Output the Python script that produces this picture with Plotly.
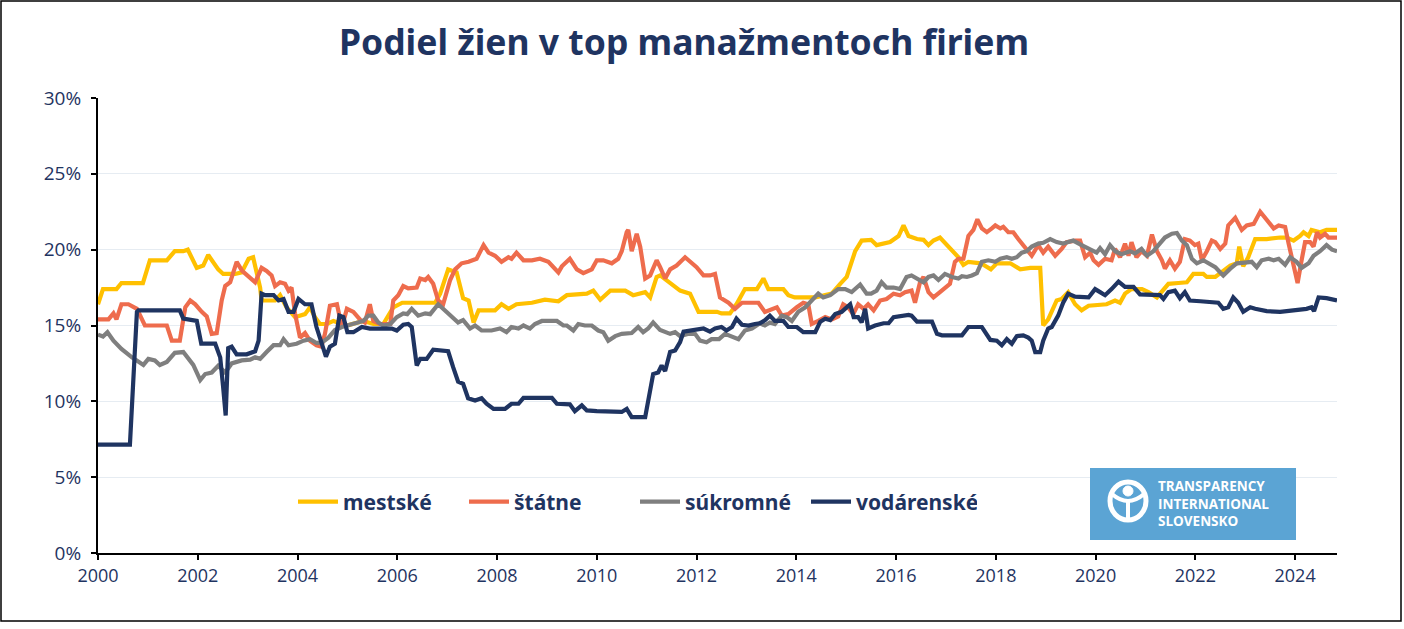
import plotly.graph_objects as go

W, H = 1404, 629
ML, MR, MT, MB = 98, 67, 98, 76
NAVY = "#1F3461"

title_text = "Podiel žien v top manažmentoch firiem"
series_names = ["mestské", "štátne", "súkromné", "vodárenské"]
series_colors = ["#FFC000", "#EE6C4D", "#7F7F7F", "#1F3461"]
y_ticks = [0, 5, 10, 15, 20, 25, 30]
x_ticks = list(range(2000, 2025, 2))
logo_lines = ["TRANSPARENCY", "INTERNATIONAL", "SLOVENSKO"]

# (year, share in %)
mestske = [(2000.0,16.4),(2000.1,17.4),(2000.37,17.4),(2000.47,17.8),(2000.9,17.8),(2001.04,19.3),(2001.38,19.3),(2001.54,19.9),(2001.71,19.9),(2001.8,20.0),(2001.98,18.8),(2002.11,18.95),(2002.21,19.65),(2002.41,18.7),(2002.51,18.4),(2002.75,18.4),(2002.88,18.5),(2003.02,19.4),(2003.11,19.5),(2003.25,17.5),(2003.28,16.65),(2003.55,16.65),(2003.65,17.0),(2003.78,16.2),(2003.95,15.55),(2004.15,15.75),(2004.25,16.2),(2004.35,15.55),(2004.45,15.1),(2004.59,15.1),(2004.72,15.3),(2004.99,15.0),(2005.32,15.3),(2005.52,15.1),(2005.72,15.1),(2005.92,16.2),(2006.1,16.5),(2006.35,16.5),(2006.76,16.5),(2006.86,17.1),(2007.02,18.7),(2007.19,18.5),(2007.32,16.8),(2007.43,16.65),(2007.53,15.2),(2007.63,16.0),(2007.96,16.0),(2008.09,16.4),(2008.23,16.1),(2008.39,16.4),(2008.7,16.5),(2008.96,16.7),(2009.23,16.6),(2009.4,17.0),(2009.8,17.1),(2009.93,17.3),(2010.07,16.7),(2010.27,17.3),(2010.57,17.3),(2010.73,17.0),(2010.97,17.2),(2011.07,16.85),(2011.2,18.2),(2011.27,18.3),(2011.47,17.8),(2011.67,17.3),(2011.87,17.1),(2012.04,15.9),(2012.41,15.9),(2012.5,15.8),(2012.67,15.8),(2012.8,16.4),(2012.97,17.4),(2013.21,17.4),(2013.34,18.1),(2013.44,17.4),(2013.74,17.4),(2013.84,17.0),(2013.97,16.85),(2014.38,16.85),(2014.58,17.0),(2014.71,17.1),(2014.88,17.75),(2015.01,18.2),(2015.18,19.9),(2015.31,20.6),(2015.5,20.65),(2015.61,20.3),(2015.88,20.5),(2016.05,20.9),(2016.15,21.6),(2016.25,20.9),(2016.42,20.7),(2016.55,20.65),(2016.65,20.3),(2016.75,20.6),(2016.88,20.8),(2017.02,20.3),(2017.15,19.9),(2017.25,19.5),(2017.35,19.0),(2017.45,19.2),(2017.7,19.1),(2017.9,18.7),(2018.02,19.1),(2018.29,19.1),(2018.49,18.7),(2018.69,18.8),(2018.89,18.8),(2018.95,15.0),(2019.05,15.4),(2019.15,16.1),(2019.22,16.65),(2019.32,16.75),(2019.45,17.2),(2019.59,16.4),(2019.72,16.0),(2019.86,16.3),(2020.22,16.4),(2020.39,16.65),(2020.49,16.5),(2020.59,17.1),(2020.72,17.4),(2020.93,17.4),(2021.06,17.2),(2021.23,16.85),(2021.33,17.2),(2021.46,17.75),(2021.66,17.8),(2021.83,17.85),(2021.96,18.4),(2022.16,18.4),(2022.23,18.2),(2022.4,18.2),(2022.56,18.6),(2022.7,18.95),(2022.83,19.1),(2022.88,20.2),(2022.96,18.9),(2023.06,19.5),(2023.2,20.7),(2023.43,20.7),(2023.7,20.8),(2023.83,20.8),(2023.97,20.6),(2024.1,20.9),(2024.17,21.15),(2024.27,20.9),(2024.33,21.3),(2024.5,21.15),(2024.63,21.3),(2024.84,21.3)]

statne = [(2000.0,15.4),(2000.21,15.4),(2000.31,15.8),(2000.37,15.4),(2000.47,16.4),(2000.61,16.4),(2000.78,16.1),(2000.91,15.3),(2000.94,15.0),(2001.38,15.0),(2001.48,14.0),(2001.64,14.0),(2001.75,16.2),(2001.85,16.65),(2001.95,16.4),(2002.08,15.9),(2002.18,15.6),(2002.28,14.45),(2002.38,14.5),(2002.48,16.65),(2002.55,17.6),(2002.65,17.85),(2002.78,19.2),(2002.89,18.6),(2003.0,18.3),(2003.15,17.85),(2003.28,18.8),(2003.38,18.6),(2003.48,18.3),(2003.55,17.6),(2003.65,17.85),(2003.75,17.75),(2003.82,17.3),(2003.88,17.5),(2003.95,15.8),(2004.05,14.2),(2004.15,14.5),(2004.25,14.0),(2004.38,13.7),(2004.48,13.6),(2004.55,14.45),(2004.65,16.3),(2004.79,16.4),(2004.89,14.9),(2004.99,16.1),(2005.12,15.9),(2005.25,15.4),(2005.35,15.2),(2005.45,16.4),(2005.52,15.3),(2005.65,15.1),(2005.86,15.1),(2005.92,16.65),(2006.02,17.0),(2006.12,17.6),(2006.22,17.45),(2006.39,17.5),(2006.46,18.1),(2006.56,18.0),(2006.62,18.2),(2006.72,17.75),(2006.82,16.65),(2006.92,16.4),(2007.06,18.0),(2007.16,18.7),(2007.29,19.1),(2007.43,19.2),(2007.59,19.4),(2007.73,20.3),(2007.83,19.8),(2007.96,19.6),(2008.09,19.2),(2008.23,19.5),(2008.29,19.4),(2008.39,19.8),(2008.53,19.3),(2008.7,19.3),(2008.86,19.4),(2009.03,19.2),(2009.23,18.5),(2009.3,18.9),(2009.46,19.4),(2009.6,18.7),(2009.73,18.45),(2009.9,18.7),(2010.0,19.3),(2010.13,19.3),(2010.3,19.1),(2010.43,19.4),(2010.5,19.9),(2010.6,21.15),(2010.63,21.3),(2010.7,19.9),(2010.8,21.05),(2010.87,20.2),(2010.97,18.1),(2011.07,18.3),(2011.2,19.3),(2011.27,18.85),(2011.37,18.1),(2011.47,18.7),(2011.6,18.95),(2011.77,19.5),(2011.87,19.2),(2012.0,18.85),(2012.14,18.3),(2012.27,18.3),(2012.37,18.4),(2012.47,16.85),(2012.64,16.5),(2012.77,16.1),(2012.91,16.5),(2013.24,16.5),(2013.37,15.9),(2013.47,16.0),(2013.61,16.2),(2013.71,15.65),(2013.84,15.75),(2014.01,16.2),(2014.14,16.5),(2014.24,16.4),(2014.31,15.1),(2014.44,15.3),(2014.58,15.55),(2014.71,15.4),(2014.84,15.6),(2014.94,16.4),(2015.04,16.2),(2015.14,15.75),(2015.24,16.4),(2015.35,16.1),(2015.44,16.4),(2015.55,16.0),(2015.68,16.65),(2015.81,16.75),(2015.95,17.1),(2016.08,17.0),(2016.18,17.2),(2016.31,17.3),(2016.38,16.5),(2016.48,17.85),(2016.55,18.2),(2016.65,17.2),(2016.75,16.85),(2016.88,17.2),(2016.98,17.5),(2017.08,17.75),(2017.18,19.2),(2017.25,19.4),(2017.35,19.4),(2017.45,20.9),(2017.55,21.3),(2017.63,22.0),(2017.72,21.4),(2017.82,21.15),(2017.92,21.4),(2017.99,21.6),(2018.09,21.4),(2018.15,21.5),(2018.25,21.15),(2018.35,21.15),(2018.45,20.7),(2018.55,20.3),(2018.62,20.05),(2018.72,19.6),(2018.85,20.3),(2018.95,19.8),(2019.05,20.2),(2019.19,19.6),(2019.32,20.05),(2019.42,20.5),(2019.59,20.6),(2019.69,20.6),(2019.79,19.5),(2019.89,19.8),(2019.96,19.3),(2020.06,19.0),(2020.19,19.4),(2020.32,19.3),(2020.39,20.05),(2020.49,19.5),(2020.59,20.4),(2020.66,19.6),(2020.72,20.5),(2020.82,19.5),(2020.92,19.9),(2021.03,19.6),(2021.13,21.0),(2021.23,19.9),(2021.33,19.3),(2021.39,18.75),(2021.49,19.3),(2021.59,18.75),(2021.69,19.2),(2021.79,20.7),(2021.89,20.6),(2021.99,20.3),(2022.06,20.4),(2022.13,19.3),(2022.23,19.9),(2022.33,20.6),(2022.4,20.5),(2022.5,20.05),(2022.6,20.4),(2022.66,21.6),(2022.8,22.1),(2022.93,21.3),(2023.03,21.6),(2023.17,21.7),(2023.3,22.5),(2023.4,22.1),(2023.5,21.7),(2023.57,21.4),(2023.67,21.6),(2023.8,21.5),(2023.87,20.4),(2023.97,19.1),(2024.05,17.8),(2024.13,19.3),(2024.2,20.5),(2024.3,20.5),(2024.37,20.2),(2024.44,21.15),(2024.5,20.8),(2024.6,21.05),(2024.67,20.8),(2024.84,20.8)]

sukromne = [(2000.0,14.4),(2000.1,14.27),(2000.19,14.56),(2000.31,14.0),(2000.47,13.46),(2000.68,12.9),(2000.91,12.4),(2001.01,12.8),(2001.14,12.7),(2001.24,12.4),(2001.38,12.6),(2001.54,13.2),(2001.71,13.25),(2001.81,12.8),(2001.91,12.4),(2002.05,11.4),(2002.15,11.8),(2002.28,11.9),(2002.41,12.35),(2002.55,11.9),(2002.68,12.5),(2002.88,12.7),(2003.05,12.75),(2003.15,12.9),(2003.25,12.8),(2003.38,13.25),(2003.52,13.7),(2003.65,13.7),(2003.72,14.1),(2003.82,13.7),(2003.98,13.8),(2004.12,14.0),(2004.25,14.1),(2004.38,13.85),(2004.48,13.85),(2004.62,14.2),(2004.75,14.7),(2004.89,14.9),(2005.05,15.05),(2005.19,15.2),(2005.32,15.3),(2005.42,15.65),(2005.52,15.65),(2005.62,15.2),(2005.72,15.0),(2005.86,15.1),(2005.99,15.55),(2006.12,15.8),(2006.2,15.75),(2006.29,16.1),(2006.42,15.65),(2006.56,15.8),(2006.66,15.75),(2006.82,16.4),(2006.92,16.1),(2007.06,15.75),(2007.22,15.2),(2007.32,15.35),(2007.46,14.8),(2007.56,15.0),(2007.69,14.67),(2007.89,14.67),(2008.06,14.8),(2008.19,14.56),(2008.29,14.9),(2008.43,14.8),(2008.53,15.0),(2008.66,14.8),(2008.76,15.1),(2008.9,15.3),(2009.2,15.3),(2009.33,15.0),(2009.4,15.0),(2009.53,14.67),(2009.63,15.1),(2009.76,15.0),(2009.9,15.0),(2010.03,14.67),(2010.13,14.56),(2010.23,14.0),(2010.37,14.3),(2010.5,14.45),(2010.7,14.5),(2010.83,14.9),(2010.93,14.56),(2011.03,14.8),(2011.13,15.2),(2011.27,14.7),(2011.47,14.45),(2011.57,14.56),(2011.67,14.3),(2011.84,14.45),(2011.97,14.45),(2012.07,14.0),(2012.2,13.9),(2012.3,14.1),(2012.45,14.1),(2012.57,14.45),(2012.71,14.3),(2012.84,14.1),(2012.97,14.67),(2013.11,14.8),(2013.27,15.15),(2013.37,15.0),(2013.47,15.2),(2013.57,15.1),(2013.71,15.65),(2013.81,15.55),(2013.91,15.3),(2014.04,15.9),(2014.18,16.2),(2014.31,16.65),(2014.44,17.1),(2014.54,16.85),(2014.68,17.0),(2014.84,17.4),(2014.98,17.4),(2015.11,17.2),(2015.28,17.7),(2015.41,17.1),(2015.5,17.1),(2015.61,17.3),(2015.71,17.85),(2015.81,17.5),(2015.95,17.5),(2016.08,17.4),(2016.21,18.2),(2016.31,18.3),(2016.42,18.1),(2016.55,17.85),(2016.65,18.2),(2016.75,18.3),(2016.85,18.0),(2016.98,18.4),(2017.12,18.2),(2017.25,18.1),(2017.32,18.25),(2017.42,18.2),(2017.52,18.3),(2017.62,18.45),(2017.72,19.2),(2017.85,19.3),(2017.99,19.2),(2018.09,19.4),(2018.22,19.5),(2018.32,19.4),(2018.42,19.5),(2018.52,19.8),(2018.62,19.9),(2018.72,20.2),(2018.85,20.4),(2018.95,20.45),(2019.09,20.7),(2019.22,20.5),(2019.35,20.4),(2019.55,20.6),(2019.72,20.3),(2019.89,20.05),(2020.02,19.8),(2020.09,20.1),(2020.19,19.7),(2020.29,20.3),(2020.39,19.9),(2020.52,19.7),(2020.69,19.9),(2020.79,19.75),(2020.92,20.05),(2021.03,19.6),(2021.16,19.9),(2021.26,20.3),(2021.39,20.8),(2021.53,21.05),(2021.63,21.1),(2021.73,20.6),(2021.83,20.3),(2021.93,19.4),(2022.03,19.1),(2022.16,19.3),(2022.26,19.1),(2022.4,18.85),(2022.5,18.5),(2022.56,18.3),(2022.7,18.75),(2022.83,19.1),(2022.99,19.15),(2023.13,19.2),(2023.23,18.85),(2023.33,19.3),(2023.47,19.4),(2023.57,19.3),(2023.67,19.4),(2023.8,19.0),(2023.9,19.5),(2024.03,19.2),(2024.13,18.8),(2024.27,19.1),(2024.37,19.6),(2024.5,19.9),(2024.63,20.3),(2024.74,20.0),(2024.84,19.9)]

vodarenske = [(2000.0,7.15),(2000.64,7.15),(2000.78,15.9),(2000.81,16.0),(2001.64,16.0),(2001.71,15.45),(2001.98,15.3),(2002.07,13.8),(2002.35,13.8),(2002.45,12.9),(2002.51,10.9),(2002.56,9.07),(2002.61,13.5),(2002.68,13.6),(2002.78,13.1),(2002.98,13.1),(2003.15,13.3),(2003.22,14.0),(2003.28,17.1),(2003.35,17.0),(2003.52,17.0),(2003.62,16.65),(2003.72,16.75),(2003.82,15.9),(2003.92,15.9),(2004.02,16.75),(2004.15,16.4),(2004.28,16.4),(2004.38,14.9),(2004.48,13.9),(2004.57,12.95),(2004.65,13.6),(2004.75,13.8),(2004.84,15.65),(2004.92,15.55),(2005.0,14.56),(2005.12,14.56),(2005.29,14.9),(2005.45,14.8),(2005.89,14.8),(2005.99,14.67),(2006.12,15.05),(2006.22,15.1),(2006.29,14.9),(2006.39,12.36),(2006.46,12.8),(2006.59,12.8),(2006.72,13.4),(2007.02,13.3),(2007.12,12.25),(2007.22,11.3),(2007.32,11.15),(2007.42,10.2),(2007.56,10.05),(2007.69,10.2),(2007.79,9.84),(2007.93,9.5),(2008.16,9.5),(2008.29,9.84),(2008.43,9.84),(2008.53,10.23),(2009.1,10.23),(2009.2,9.84),(2009.46,9.8),(2009.56,9.35),(2009.7,9.73),(2009.8,9.4),(2010.0,9.35),(2010.5,9.3),(2010.6,9.5),(2010.7,8.96),(2010.97,8.96),(2011.07,10.7),(2011.13,11.8),(2011.23,11.9),(2011.3,12.36),(2011.37,12.0),(2011.47,13.25),(2011.57,13.35),(2011.67,13.9),(2011.74,14.6),(2011.9,14.7),(2012.14,14.8),(2012.27,14.6),(2012.37,14.8),(2012.5,14.9),(2012.6,14.67),(2012.71,14.9),(2012.8,15.45),(2012.91,15.05),(2013.04,15.0),(2013.17,15.1),(2013.27,15.15),(2013.37,15.35),(2013.47,15.65),(2013.57,15.3),(2013.74,15.3),(2013.84,14.9),(2014.01,14.9),(2014.14,14.56),(2014.38,14.56),(2014.48,15.25),(2014.58,15.45),(2014.68,15.35),(2014.78,15.75),(2014.91,15.9),(2015.01,16.2),(2015.08,16.4),(2015.15,15.55),(2015.24,15.55),(2015.31,15.2),(2015.38,16.1),(2015.44,14.8),(2015.58,15.0),(2015.75,15.15),(2015.85,15.15),(2015.95,15.55),(2016.15,15.65),(2016.25,15.7),(2016.31,15.65),(2016.42,15.25),(2016.72,15.25),(2016.82,14.45),(2016.92,14.35),(2017.32,14.35),(2017.45,14.9),(2017.72,14.9),(2017.89,14.05),(2018.02,14.0),(2018.12,13.7),(2018.22,14.1),(2018.32,13.8),(2018.42,14.3),(2018.55,14.35),(2018.65,14.2),(2018.72,14.0),(2018.79,13.25),(2018.89,13.25),(2018.95,14.0),(2019.05,14.8),(2019.12,14.9),(2019.25,15.65),(2019.35,16.5),(2019.45,17.1),(2019.59,16.9),(2019.86,16.85),(2019.99,17.4),(2020.09,17.2),(2020.19,17.0),(2020.32,17.4),(2020.46,17.9),(2020.59,17.55),(2020.76,17.55),(2020.89,17.05),(2021.19,17.05),(2021.29,17.0),(2021.36,16.75),(2021.46,17.2),(2021.59,17.3),(2021.69,16.8),(2021.79,17.2),(2021.89,16.65),(2022.1,16.6),(2022.36,16.55),(2022.46,16.5),(2022.56,16.1),(2022.66,16.2),(2022.76,16.85),(2022.86,16.5),(2022.96,15.9),(2023.1,16.2),(2023.2,16.1),(2023.43,15.95),(2023.7,15.9),(2024.0,16.0),(2024.23,16.1),(2024.33,16.2),(2024.38,15.95),(2024.47,16.85),(2024.63,16.8),(2024.84,16.65)]

all_series = [mestske, statne, sukromne, vodarenske]

fig = go.Figure()
for name, color, data in zip(series_names, series_colors, all_series):
    data = sorted(data)
    fig.add_trace(go.Scatter(
        x=[p[0] for p in data], y=[p[1] for p in data],
        mode="lines", name=name,
        line=dict(color=color, width=4.2),
    ))

PW = W - ML - MR
PH = H - MT - MB


def px_x(px):
    return (px - ML) / PW


def px_y(py):
    return (H - MB - py) / PH


shapes = [
    # outer frame
    dict(type="rect", xref="paper", yref="paper",
         x0=px_x(1), x1=px_x(1401), y0=px_y(1), y1=px_y(621),
         line=dict(color="black", width=1.5), fillcolor="rgba(0,0,0,0)", layer="below"),
    # logo box
    dict(type="rect", xref="paper", yref="paper",
         x0=px_x(1090), x1=px_x(1296), y0=px_y(540), y1=px_y(468),
         line=dict(width=0), fillcolor="#5BA4D4", layer="above"),
    # logo icon
    dict(type="circle", xref="paper", yref="paper",
         x0=px_x(1110), x1=px_x(1146), y0=px_y(520), y1=px_y(482),
         line=dict(color="white", width=5), fillcolor="rgba(0,0,0,0)", layer="above"),
    dict(type="circle", xref="paper", yref="paper",
         x0=px_x(1123), x1=px_x(1133), y0=px_y(496), y1=px_y(486),
         line=dict(color="white", width=1), fillcolor="white", layer="above"),
    dict(type="path", xref="paper", yref="paper",
         path=f"M {px_x(1112)} {px_y(494)} Q {px_x(1128)} {px_y(508)} {px_x(1144)} {px_y(494)}",
         line=dict(color="white", width=4), layer="above"),
    dict(type="line", xref="paper", yref="paper",
         x0=px_x(1128), x1=px_x(1128), y0=px_y(500), y1=px_y(519),
         line=dict(color="white", width=4), layer="above"),
]

annotations = [dict(
    text="<br>".join(logo_lines), xref="paper", yref="paper",
    x=px_x(1156), y=px_y(503), xanchor="left", yanchor="middle",
    align="left", showarrow=False,
    font=dict(family="Open Sans", size=13.5, color="white", weight="bold"))]

fig.update_layout(
    width=W, height=H,
    margin=dict(l=ML, r=MR, t=MT, b=MB),
    paper_bgcolor="white", plot_bgcolor="white",
    title=dict(text=title_text, x=px_x(684), xanchor="center", xref="paper",
               y=1 - 43 / H, yanchor="middle",
               font=dict(family="Noto Sans", size=35.5, color=NAVY, weight="bold")),
    font=dict(family="Open Sans", color=NAVY, size=18),
    showlegend=True,
    legend=dict(orientation="h", x=px_x(293), xanchor="left", y=px_y(502), yanchor="middle",
                bgcolor="rgba(0,0,0,0)",
                font=dict(family="Noto Sans", size=21, color=NAVY, weight="bold"),
                itemwidth=40, entrywidth=116, entrywidthmode="pixels"),
    xaxis=dict(range=[2000, 2024.84], tickvals=x_ticks, ticktext=[str(v) for v in x_ticks],
               showgrid=False, zeroline=False, showline=True, linecolor="black", linewidth=2,
               ticks="outside", ticklen=5, tickcolor="black", tickwidth=1.5,
               tickfont=dict(family="Open Sans", size=18, color=NAVY)),
    yaxis=dict(range=[0, 30], tickvals=y_ticks, ticktext=[f"{v}%" for v in y_ticks],
               showgrid=True, gridcolor="#E6ECF2", gridwidth=1, zeroline=False,
               showline=True, linecolor="black", linewidth=2,
               ticks="outside", ticklen=5, tickcolor="black", tickwidth=1.5,
               ticklabelstandoff=6,
               tickfont=dict(family="Open Sans", size=19, color=NAVY)),
    shapes=shapes, annotations=annotations,
)

fig.write_html("out.html", config={"displayModeBar": False},
               post_script="document.body.style.margin='0px';document.body.style.padding='0px';")
